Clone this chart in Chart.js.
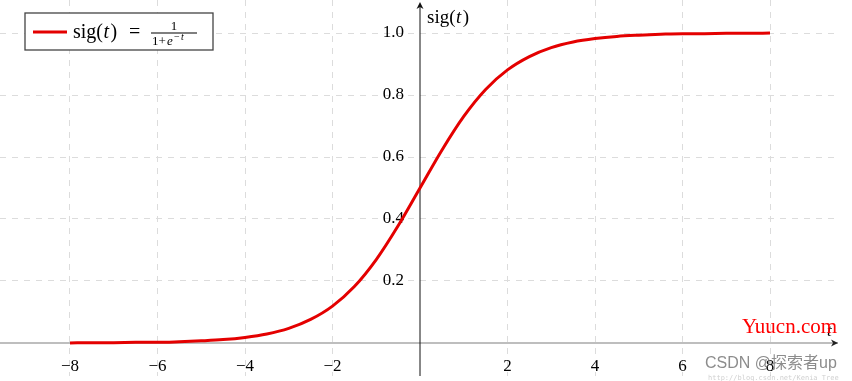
<!DOCTYPE html>
<html lang="en">
<head>
  <meta charset="UTF-8">
  <title>sigmoid</title>
  <script src="https://cdn.jsdelivr.net/npm/chart.js"></script>
  <style>
    body {
      margin: 0;
      background: #fff;
    }
    #sigChart {
      display: block;
    }
  </style>
</head>
<body>
  <canvas id="sigChart" width="852" height="381"></canvas>

  <script>
    // values
    const tValues = [-8, -7.5, -7, -6.5, -6, -5.5, -5, -4.5, -4, -3.5, -3, -2.5, -2, -1.5, -1, -0.5,
      0, 0.5, 1, 1.5, 2, 2.5, 3, 3.5, 4, 4.5, 5, 5.5, 6, 6.5, 7, 7.5, 8];
    const sigValues = [0.000, 0.001, 0.001, 0.002, 0.002, 0.004, 0.007, 0.011, 0.018, 0.029, 0.047, 0.076,
      0.119, 0.182, 0.269, 0.378, 0.500, 0.622, 0.731, 0.818, 0.881, 0.924, 0.953, 0.971, 0.982, 0.989,
      0.993, 0.996, 0.998, 0.998, 0.999, 0.999, 1.000];
    const xTicks = [-8, -6, -4, -2, 2, 4, 6, 8];
    const xTickLabels = ['\u22128', '\u22126', '\u22124', '\u22122', '2', '4', '6', '8'];
    const yTicks = [0.2, 0.4, 0.6, 0.8, 1.0];
    const yTickLabels = ['0.2', '0.4', '0.6', '0.8', '1.0'];

    const serif = '"Liberation Serif", "DejaVu Serif", serif';
    const red = 'rgb(228, 0, 0)';

    function arrowHead(ctx, x, y, dir) {
      ctx.save();
      ctx.translate(x, y);
      if (dir === 'up') ctx.rotate(-Math.PI / 2);
      ctx.beginPath();
      ctx.moveTo(0, 0);
      ctx.lineTo(-7, -3.5);
      ctx.lineTo(-5, 0);
      ctx.lineTo(-7, 3.5);
      ctx.closePath();
      ctx.fill();
      ctx.restore();
    }

    // draws "sig(t)" with an italic t, returns end x
    function sigText(ctx, x, y, size) {
      ctx.font = size + 'px ' + serif;
      ctx.fillText('sig(', x, y);
      x += ctx.measureText('sig(').width + 0.5;
      ctx.font = 'italic ' + size + 'px ' + serif;
      ctx.fillText('t', x, y);
      x += ctx.measureText('t').width + 1.5;
      ctx.font = size + 'px ' + serif;
      ctx.fillText(')', x, y);
      return x + ctx.measureText(')').width;
    }

    const axesPlugin = {
      id: 'axesThroughOrigin',
      beforeDatasetsDraw(chart) {
        const ctx = chart.ctx;
        const xs = chart.scales.x, ys = chart.scales.y;
        const x0 = xs.getPixelForValue(0);
        const y0 = ys.getPixelForValue(0);
        const area = chart.chartArea;
        ctx.save();
        // x axis
        ctx.strokeStyle = '#a8a8a8';
        ctx.lineWidth = 1.4;
        ctx.beginPath();
        ctx.moveTo(0, y0);
        ctx.lineTo(area.right - 2, y0);
        ctx.stroke();
        ctx.fillStyle = '#222';
        arrowHead(ctx, area.right - 2, y0, 'right');
        // y axis
        ctx.strokeStyle = '#111';
        ctx.lineWidth = 1;
        ctx.beginPath();
        ctx.moveTo(x0, area.bottom);
        ctx.lineTo(x0, 4);
        ctx.stroke();
        ctx.fillStyle = '#111';
        arrowHead(ctx, x0, 2, 'up');

        // tick labels
        ctx.fillStyle = '#000';
        ctx.font = '17px ' + serif;
        ctx.textAlign = 'center';
        ctx.textBaseline = 'middle';
        xTicks.forEach((t, i) => {
          ctx.fillText(xTickLabels[i], xs.getPixelForValue(t), y0 + 24);
        });
        ctx.textAlign = 'right';
        yTicks.forEach((v, i) => {
          ctx.fillText(yTickLabels[i], x0 - 16, ys.getPixelForValue(v));
        });

        // axis names
        ctx.textAlign = 'left';
        ctx.textBaseline = 'alphabetic';
        sigText(ctx, x0 + 7, 23, 19);
        ctx.font = 'italic 17px ' + serif;
        ctx.fillText('t', area.right - 13, y0 - 7);
        ctx.restore();
      },
      afterDraw(chart) {
        const ctx = chart.ctx;
        ctx.save();
        // legend box
        ctx.fillStyle = '#fff';
        ctx.fillRect(25, 13, 188, 37);
        ctx.strokeStyle = '#444';
        ctx.lineWidth = 1.3;
        ctx.strokeRect(25, 13, 188, 37);
        ctx.strokeStyle = red;
        ctx.lineWidth = 3;
        ctx.beginPath();
        ctx.moveTo(33, 32);
        ctx.lineTo(67, 32);
        ctx.stroke();

        ctx.fillStyle = '#000';
        ctx.textBaseline = 'alphabetic';
        ctx.textAlign = 'left';
        sigText(ctx, 73, 38, 20);
        ctx.font = '20px ' + serif;
        ctx.fillText('=', 129, 38);
        // fraction
        ctx.font = '13px ' + serif;
        ctx.textAlign = 'center';
        ctx.fillText('1', 174, 30);
        ctx.fillRect(151, 32.5, 46, 1);
        ctx.textAlign = 'left';
        ctx.fillText('1+', 152, 45);
        ctx.font = 'italic 13px ' + serif;
        ctx.fillText('e', 167, 45);
        ctx.font = '10px ' + serif;
        ctx.fillText('\u2212', 174, 40);
        ctx.font = 'italic 10px ' + serif;
        ctx.fillText('t', 181, 40);

        // watermarks
        ctx.fillStyle = '#ff0000';
        ctx.font = '21px ' + serif;
        ctx.textAlign = 'left';
        ctx.textBaseline = 'middle';
        ctx.fillText('Yuucn.com', 742, 327);
        ctx.fillStyle = 'rgba(120, 120, 120, 0.85)';
        ctx.font = '16px "Liberation Sans", "Noto Sans CJK SC", sans-serif';
        ctx.fillText('CSDN @\u63a2\u7d22\u8005up', 705, 364);
        ctx.fillStyle = 'rgba(150, 150, 150, 0.45)';
        ctx.font = '7px "DejaVu Sans Mono", monospace';
        ctx.fillText('http://blog.csdn.net/Kenia_Tree', 708, 378);
        ctx.restore();
      }
    };

    const ctx = document.getElementById('sigChart').getContext('2d');
    const sigChart = new Chart(ctx, {
      type: 'line',
      data: {
        datasets: [{
          label: 'sig(t)',
          data: tValues.map((t, i) => ({ x: t, y: sigValues[i] })),
          borderColor: red,
          borderWidth: 3,
          pointRadius: 0,
          fill: false,
          cubicInterpolationMode: 'monotone'
        }]
      },
      options: {
        responsive: false,
        animation: false,
        layout: { padding: { left: 0, top: 0, right: 12, bottom: 5 } },
        plugins: {
          legend: { display: false },
          tooltip: { enabled: false }
        },
        scales: {
          x: {
            type: 'linear',
            min: -9.6,
            max: 9.6,
            afterBuildTicks: (axis) => { axis.ticks = xTicks.map(v => ({ value: v })); },
            ticks: { display: false },
            grid: { color: '#dcdcdc', lineWidth: 1, drawTicks: false },
            border: { display: false, dash: [6, 6] }
          },
          y: {
            type: 'linear',
            min: -0.1065,
            max: 1.1065,
            afterBuildTicks: (axis) => { axis.ticks = yTicks.map(v => ({ value: v })); },
            ticks: { display: false },
            grid: { color: '#dcdcdc', lineWidth: 1, drawTicks: false },
            border: { display: false, dash: [6, 6] }
          }
        }
      },
      plugins: [axesPlugin]
    });
  </script>
</body>
</html>
